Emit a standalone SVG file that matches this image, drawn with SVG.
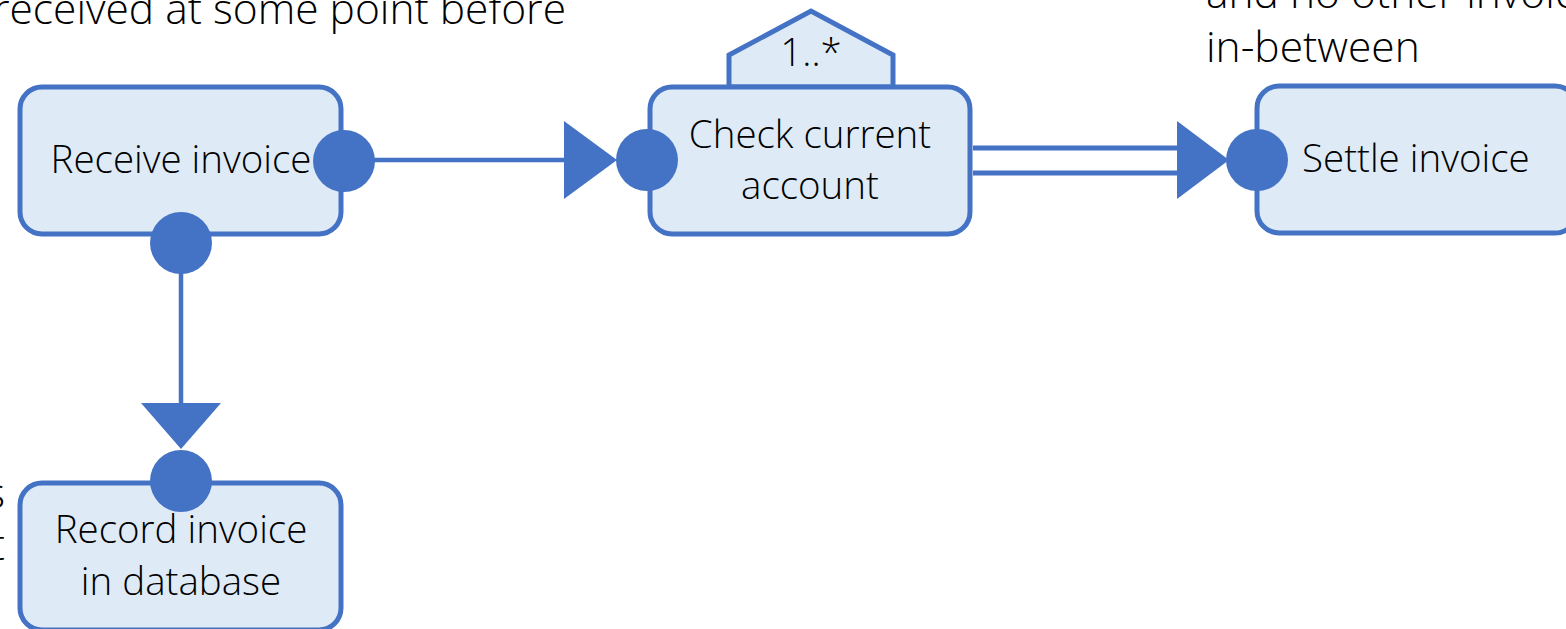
<svg xmlns="http://www.w3.org/2000/svg" width="1566" height="629" viewBox="0 0 1566 629">
<style>
.box{fill:#DEEBF7;stroke:#4472C4;stroke-width:5}
.port{fill:#4472C4;stroke:none}
.ln{stroke:#4472C4;stroke-width:4.5;fill:none}
.dl{stroke:#4472C4;stroke-width:5;fill:none}
.head{fill:#4472C4;stroke:none}
.t{font-family:"Open Sans","Liberation Sans",sans-serif;font-weight:300;font-size:38.5px;fill:#000}
.a{font-family:"Open Sans","Liberation Sans",sans-serif;font-weight:300;font-size:42.5px;fill:#000}
</style>
<rect width="1566" height="629" fill="#FFFFFF"/>
<g id="annotations">
<text class="a" x="566" y="24" text-anchor="end">received at some point before</text>
<text class="a" x="1206" y="8">and no other invoice</text>
<text class="a" x="1206" y="62">in-between</text>
<text class="a" x="5" y="508" text-anchor="end">s</text>
<text class="a" x="5" y="560" text-anchor="end">t</text>
</g>
<g id="connectors">
<line class="ln" x1="370" y1="160" x2="566" y2="160"/>
<polygon class="head" points="564,121 564,199 617,160"/>
<line class="ln" x1="181" y1="270" x2="181" y2="405"/>
<polygon class="head" points="141,403 221,403 181,449"/>
<line class="dl" x1="973" y1="148" x2="1179" y2="148"/>
<line class="dl" x1="973" y1="173" x2="1179" y2="173"/>
<polygon class="head" points="1177,121 1177,199 1229,160"/>
</g>
<g id="node-receive">
<rect class="box" x="20" y="87" width="321" height="147" rx="22"/>
<text class="t" x="181" y="173" text-anchor="middle">Receive invoice</text>
<circle class="port" cx="344" cy="161" r="31"/>
<circle class="port" cx="181" cy="243" r="31"/>
</g>
<g id="node-check">
<polygon class="box" points="729,87 729,55 811,11 893,55 893,87"/>
<text class="t" x="811" y="66" text-anchor="middle">1..*</text>
<rect class="box" x="650" y="87" width="320" height="147" rx="22"/>
<text class="t" x="810" y="148" text-anchor="middle">Check current</text>
<text class="t" x="810" y="199" text-anchor="middle">account</text>
<circle class="port" cx="647" cy="160" r="31"/>
</g>
<g id="node-settle">
<rect class="box" x="1257" y="86" width="320" height="147" rx="22"/>
<text class="t" x="1302" y="172">Settle invoice</text>
<circle class="port" cx="1257" cy="160" r="31"/>
</g>
<g id="node-record">
<rect class="box" x="20" y="483" width="321" height="147" rx="22"/>
<text class="t" x="181" y="543" text-anchor="middle">Record invoice</text>
<text class="t" x="181" y="595" text-anchor="middle">in database</text>
<circle class="port" cx="181" cy="481" r="31"/>
</g>
</svg>
